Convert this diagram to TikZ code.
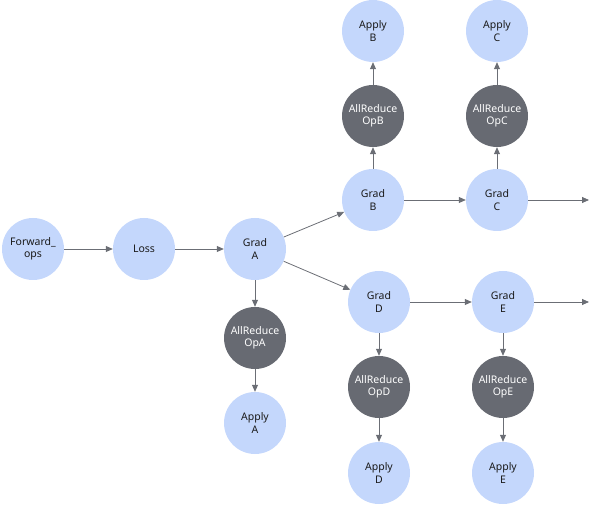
\documentclass[tikz,border=0pt]{standalone}
\usepackage{fontspec}
\setmainfont{Noto Sans}
\usepackage{tikz}
\usetikzlibrary{arrows.meta,positioning}
\definecolor{opblue}{HTML}{C4D7FC}
\definecolor{commgray}{HTML}{676A72}
\definecolor{linegray}{HTML}{6B6E75}
\definecolor{ink}{HTML}{1A1A1A}

\begin{document}
\begin{tikzpicture}[x=1pt,y=-1pt,font=\fontsize{10.5}{12.5}\selectfont,
    opnode/.style={circle,fill=opblue,minimum size=62pt,inner sep=0pt,align=center,text=ink},
    commnode/.style={circle,fill=commgray,minimum size=62pt,inner sep=0pt,align=center,text=white},
    flow/.style={-{Triangle[length=7pt,width=6pt]},linegray,line width=0.8pt}]
  \useasboundingbox (0,0) rectangle (592,505);

  % Forward pass and first gradient.
  \node[opnode] (fwd) at (33,249) {Forward\_\\ops};
  \node[opnode] (loss) at (144,249) {Loss};
  \node[opnode] (gradA) at (255,249) {Grad\\A};
  \node[commnode] (opA) at (255,338) {AllReduce\\OpA};
  \node[opnode] (applyA) at (255,423) {Apply\\A};

  % Upper branch.
  \node[opnode] (gradB) at (373,200) {Grad\\B};
  \node[commnode] (opB) at (373,116) {AllReduce\\OpB};
  \node[opnode] (applyB) at (373,31) {Apply\\B};
  \node[opnode] (gradC) at (497,200) {Grad\\C};
  \node[commnode] (opC) at (497,116) {AllReduce\\OpC};
  \node[opnode] (applyC) at (497,31) {Apply\\C};
  \coordinate (outC) at (589,200);

  % Lower branch.
  \node[opnode] (gradD) at (379,302) {Grad\\D};
  \node[commnode] (opD) at (379,387) {AllReduce\\OpD};
  \node[opnode] (applyD) at (379,473) {Apply\\D};
  \node[opnode] (gradE) at (503,302) {Grad\\E};
  \node[commnode] (opE) at (503,387) {AllReduce\\OpE};
  \node[opnode] (applyE) at (503,473) {Apply\\E};
  \coordinate (outE) at (589,302);

  \draw[flow] (fwd) -- (loss);
  \draw[flow] (loss) -- (gradA);
  \draw[flow] (gradA) -- (gradB);
  \draw[flow] (gradA) -- (gradD);
  \draw[flow] (gradB) -- (gradC);
  \draw[flow] (gradC) -- (outC);
  \draw[flow] (gradD) -- (gradE);
  \draw[flow] (gradE) -- (outE);
  \foreach \g/\c/\a in {gradA/opA/applyA,gradB/opB/applyB,gradC/opC/applyC,
    gradD/opD/applyD,gradE/opE/applyE}{
    \draw[flow] (\g) -- (\c);
    \draw[flow] (\c) -- (\a);
  }
\end{tikzpicture}
\end{document}
